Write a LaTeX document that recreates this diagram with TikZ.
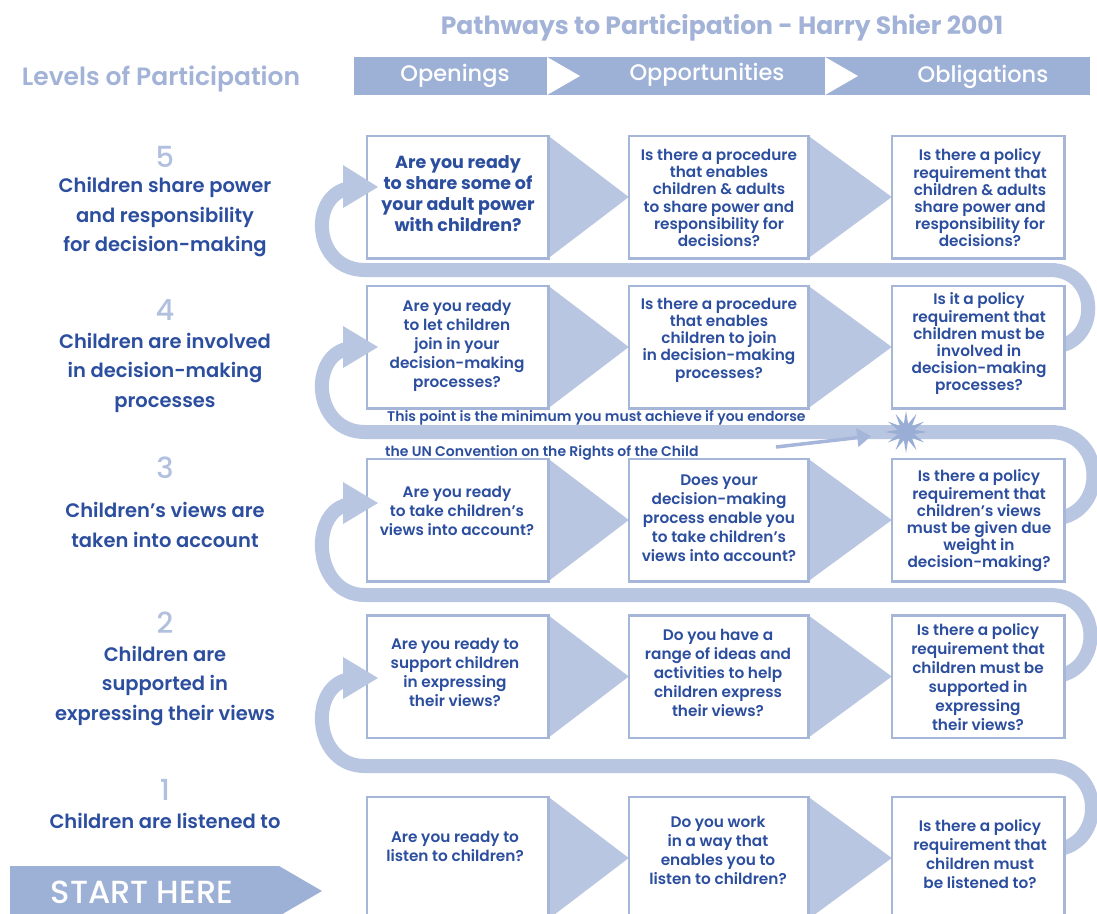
\documentclass[tikz,border=0pt]{standalone}
\usepackage{fontspec}
\IfFontExistsTF{Poppins Medium}{\setmainfont{Poppins}[UprightFont=* Medium,BoldFont=* SemiBold]}{\setmainfont{Poppins}}
\IfFontExistsTF{Poppins Bold}{\newfontface\pheavy{Poppins Bold}}{\newcommand\pheavy{\bfseries}}
\usetikzlibrary{shapes.geometric,arrows.meta}
\definecolor{txt}{RGB}{44,78,158}
\definecolor{bandcol}{RGB}{185,198,225}
\definecolor{boxcol}{RGB}{166,182,217}
\definecolor{headcol}{RGB}{157,176,214}
\definecolor{titlecol}{RGB}{163,179,216}
\definecolor{numcol}{RGB}{178,192,223}
\definecolor{starcol}{RGB}{154,173,213}
\definecolor{ptrcol}{RGB}{165,182,218}
\begin{document}
\begin{tikzpicture}[x=1pt,y=-1pt,
  qbox/.style={draw=boxcol,line width=2.5pt,fill=white,minimum height=120pt,inner sep=0pt},
  qtext/.style={align=center,text=txt,font=\bfseries\fontsize{15.3}{19}\selectfont,inner sep=0pt},
  qtight/.style={align=center,text=txt,font=\bfseries\fontsize{15.3}{17.2}\selectfont,inner sep=0pt},
  qbig/.style={align=center,text=txt,font=\pheavy\fontsize{17.5}{21}\selectfont,inner sep=0pt},
  lvl/.style={align=center,text=txt,font=\bfseries\fontsize{19.5}{29.5}\selectfont,inner sep=0pt},
  num/.style={text=numcol,font=\fontsize{29}{29}\selectfont,inner sep=0pt},
  band/.style={draw=bandcol,line width=14pt},
  tri/.style={fill=bandcol},
  head/.style={text=white,font=\fontsize{22.5}{22.5}\selectfont,inner sep=0pt},
  note/.style={anchor=west,text=txt,font=\bfseries\fontsize{14}{14}\selectfont,inner sep=0pt},
  ptr/.style={draw=ptrcol,line width=3.5pt,-{Triangle[length=14pt,width=18pt]}}
]
\useasboundingbox (0,0) rectangle (1097,913);
\clip (0,0) rectangle (1097,913);
\fill[white] (0,0) rectangle (1097,913);

% title and header
\node[text=titlecol,font=\pheavy\fontsize{25}{25}\selectfont,inner sep=0pt] (title) at (722,28) {Pathways to Participation - Harry Shier 2001};
\node[text=titlecol,font=\bfseries\fontsize{25}{25}\selectfont,inner sep=0pt] (levels) at (161,79) {Levels of Participation};
\fill[headcol] (354,57) rectangle (1090,95);
\fill[white] (547,57) -- (580,76) -- (547,95) -- cycle;
\fill[white] (825,57) -- (858,76) -- (825,95) -- cycle;
\node[head] (hOpen) at (455,76) {Openings};
\node[head] (hOpp) at (707,75) {Opportunities};
\node[head] (hObl) at (983,77) {Obligations};

% boxes (positions only, drawn later)
\path
  (457.5,197) node[qbox,minimum width=179pt] (b51) {}
  (718.5,197) node[qbox,minimum width=177pt] (b52) {}
  (978,197)   node[qbox,minimum width=170pt] (b53) {}
  (457.5,347) node[qbox,minimum width=179pt] (b41) {}
  (718.5,347) node[qbox,minimum width=177pt] (b42) {}
  (978,347)   node[qbox,minimum width=170pt] (b43) {}
  (457.5,520) node[qbox,minimum width=179pt] (b31) {}
  (718.5,520) node[qbox,minimum width=177pt] (b32) {}
  (978,520)   node[qbox,minimum width=170pt] (b33) {}
  (457.5,676.5) node[qbox,minimum width=179pt] (b21) {}
  (718.5,676.5) node[qbox,minimum width=177pt] (b22) {}
  (978,676.5)   node[qbox,minimum width=170pt] (b23) {}
  (457.5,858) node[qbox,minimum width=179pt] (b11) {}
  (718.5,858) node[qbox,minimum width=177pt] (b12) {}
  (978,858)   node[qbox,minimum width=170pt] (b13) {};

% serpentine band
\coordinate (e1) at (1050,850);
\coordinate (e2) at (1050,676.5);
\coordinate (e3) at (1050,519);
\coordinate (e4) at (1050,347);
\coordinate (a2) at (346,680);
\coordinate (a3) at (346,505);
\coordinate (a4) at (346,349);
\coordinate (a5) at (346,189);
\draw[band] (e1) .. controls (1106,850) and (1106,766) .. (1050,766) -- (365,766) .. controls (314,766) and (309,690) .. (a2);
\draw[band] (e2) .. controls (1104,676.5) and (1104,595) .. (1050,595) -- (365,595) .. controls (314,595) and (309,515) .. (a3);
\draw[band] (e3) .. controls (1108,519) and (1108,432) .. (1050,432) -- (365,432) .. controls (314,432) and (309,359) .. (a4);
\draw[band] (e4) .. controls (1101,347) and (1101,270) .. (1050,270) -- (365,270) .. controls (314,270) and (309,199) .. (a5);

% triangles between boxes
\foreach \r in {5,4,3,2,1}{
  \fill[tri] (b\r1.north east) -- (b\r2.west) -- (b\r1.south east) -- cycle;
  \fill[tri] (b\r2.north east) -- (b\r3.west) -- (b\r2.south east) -- cycle;
}
% boxes drawn
\foreach \r in {5,4,3,2,1}{\foreach \c in {1,2,3}{
  \path[draw=boxcol,line width=2.5pt,fill=white] (b\r\c.north west) rectangle (b\r\c.south east);
}}

% arrowheads into first boxes
\fill[bandcol] (343,165) -- (378,187) -- (343,208) -- cycle;
\fill[bandcol] (343,326) -- (378,347) -- (343,368) -- cycle;
\fill[bandcol] (343,482) -- (378,503) -- (343,524) -- cycle;
\fill[bandcol] (343,657) -- (378,678) -- (343,699) -- cycle;

% start here
\fill[headcol] (10,866) -- (279,866) -- (322,891) -- (279,916) -- (10,916) -- cycle;
\node[text=white,font=\fontsize{32}{32}\selectfont,inner sep=0pt] (start) at (142,892) {START HERE};

% star and pointer
\node[star,star points=12,star point ratio=2.5,fill=starcol,minimum size=42pt,inner sep=0pt] (star) at (906,432) {};
\coordinate (pst) at (776,447);
\draw[ptr,shorten >=35pt] (pst) -- (star.center);
\node[note] (note1) at (387,418) {This point is the minimum you must achieve if you endorse};
\node[note] (note2) at (385,453) {the UN Convention on the Rights of the Child};

% left column
\node[num] (n5) at (165,157) {5};
\node[lvl] (l5) at (165,217.5) {Children share power\\and responsibility\\for decision-making};
\node[num] (n4) at (165,310) {4};
\node[lvl] (l4) at (165,372.5) {Children are involved\\in decision-making\\processes};
\node[num] (n3) at (165,468) {3};
\node[lvl] (l3) at (165,525) {Children’s views are\\taken into account};
\node[num] (n2) at (165,623) {2};
\node[lvl] (l2) at (165,686) {Children are\\supported in\\expressing their views};
\node[num] (n1) at (165,790) {1};
\node[lvl] (l1) at (165,821) {Children are listened to};

% box texts
\node[qbig] (t51) at (458,194) {Are you ready\\to share some of\\your adult power\\with children?};
\node[qtight] (t52) at (719,198) {Is there a procedure\\that enables\\children \& adults\\to share power and\\responsibility for\\decisions?};
\node[qtight] (t53) at (980,198) {Is there a policy\\requirement that\\children \& adults\\share power and\\responsibility for\\decisions?};
\node[qtext] (t41) at (457,346) {Are you ready\\to let children\\join in your\\decision-making\\processes?};
\node[qtight] (t42) at (719,340) {Is there a procedure\\that enables\\children to join\\in decision-making\\processes?};
\node[qtight] (t43) at (979,344) {Is it a policy\\requirement that\\children must be\\involved in\\decision-making\\processes?};
\node[qtext] (t31) at (457,511) {Are you ready\\to take children’s\\views into account?};
\node[qtext] (t32) at (719,518) {Does your\\decision-making\\process enable you\\to take children’s\\views into account?};
\node[qtight] (t33) at (979,521) {Is there a policy\\requirement that\\children’s views\\must be given due\\weight in\\decision-making?};
\node[qtext] (t21) at (455,672) {Are you ready to\\support children\\in expressing\\their views?};
\node[qtext] (t22) at (718,673) {Do you have a\\range of ideas and\\activities to help\\children express\\their views?};
\node[qtext] (t23) at (978,677) {Is there a policy\\requirement that\\children must be\\supported in\\expressing\\their views?};
\node[qtext] (t11) at (455,846) {Are you ready to\\listen to children?};
\node[qtext] (t12) at (718,850) {Do you work\\in a way that\\enables you to\\listen to children?};
\node[qtext] (t13) at (980,854) {Is there a policy\\requirement that\\children must\\be listened to?};
\end{tikzpicture}
\end{document}
